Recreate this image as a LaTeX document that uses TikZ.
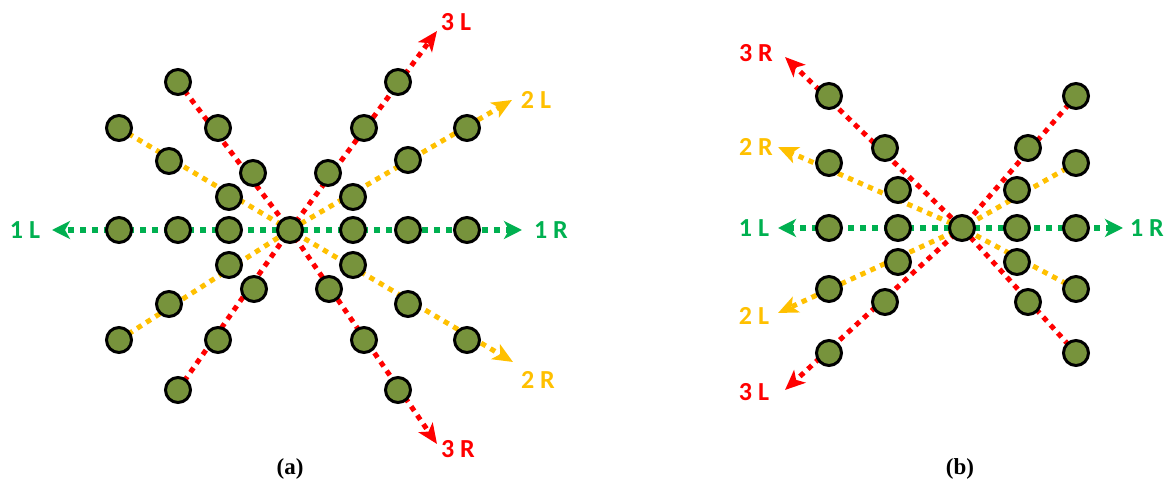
\documentclass[tikz,border=0pt]{standalone}
\usepackage{fontspec}
\setmainfont{Liberation Serif}
\newfontfamily\lblfont{Carlito}
\usetikzlibrary{arrows.meta,backgrounds}
\definecolor{olivedot}{HTML}{77933C}
\definecolor{redpath}{HTML}{FF0000}
\definecolor{orangepath}{HTML}{FFC000}
\definecolor{greenpath}{HTML}{00B050}

\begin{document}
\begin{tikzpicture}[x=0.5pt, y=-0.5pt,
  ball/.style={circle, draw=black, line width=1.5pt, fill=olivedot, minimum size=12.5pt, inner sep=0pt},
  pathone/.style={draw=greenpath, line width=3pt, dash pattern=on 3pt off 3pt, -{Stealth[length=9pt,width=9pt,inset=2.5pt]}},
  pathtwo/.style={draw=orangepath, line width=2.5pt, dash pattern=on 2.7pt off 2.7pt, -{Stealth[length=10pt,width=8.5pt,inset=2.5pt]}},
  paththree/.style={draw=redpath, line width=2.5pt, dash pattern=on 2.7pt off 2.7pt, -{Stealth[length=10pt,width=8.5pt,inset=2.5pt]}},
  lbl/.style={font=\lblfont\bfseries\fontsize{13}{15}\selectfont, inner sep=0pt},
  caption/.style={font=\bfseries\fontsize{11.5}{13}\selectfont, inner sep=0pt}]
  \useasboundingbox (0,0) rectangle (1168,490);

  % panel (a)
  \node[ball] (ac) at (290,230) {};
  \foreach \n/\x/\y in {ag1/119/230, ag2/178/230, ag3/229/230, ag4/353/230, ag5/408/230, ag6/467/230,
      ar1/178/82, ar2/218/128, ar3/253/173, ar4/329/289, ar5/364/340, ar6/398/390,
      ar7/398/82, ar8/364/128, ar9/328/173, ar10/254/289, ar11/218/340, ar12/178/390,
      ao1/119/128, ao2/169/161, ao3/229/197, ao4/353/265, ao5/408/304, ao6/467/340,
      ao7/467/128, ao8/408/160, ao9/353/197, ao10/229/265, ao11/169/304, ao12/119/340}
    \node[ball] (\n) at (\x,\y) {};
  \coordinate (a1L) at (52,230);
  \coordinate (a1R) at (522,230);
  \coordinate (a2L) at (512,100);
  \coordinate (a2R) at (513,362);
  \coordinate (a3L) at (437,31);
  \coordinate (a3R) at (437,444);
  \begin{scope}[on background layer]
    \draw[pathone] (ac.center) -- (a1L);
    \draw[pathone] (ac.center) -- (a1R);
    \draw[pathtwo] (ao1.center) -- (ac.center) -- (a2R);
    \draw[pathtwo] (ao12.center) -- (ac.center) -- (a2L);
    \draw[paththree] (ar1.center) -- (ac.center) -- (a3R);
    \draw[paththree] (ar12.center) -- (ac.center) -- (a3L);
  \end{scope}
  \node[lbl, text=greenpath] (la1L) at (25,230) {1 L};
  \node[lbl, text=greenpath] (la1R) at (551,230) {1 R};
  \node[lbl, text=orangepath] (la2L) at (536,100) {2 L};
  \node[lbl, text=orangepath] (la2R) at (538,380) {2 R};
  \node[lbl, text=redpath] (la3L) at (456,22) {3 L};
  \node[lbl, text=redpath] (la3R) at (458,449) {3 R};
  \node[caption] (capa) at (290,469) {(a)};

  % panel (b)
  \node[ball] (bc) at (962,228) {};
  \foreach \n/\x/\y in {bg1/829/228, bg2/898/228, bg3/1017/228, bg4/1076/228,
      br1/829/96, br2/885/148, br3/1028/302, br4/1076/353,
      br5/1076/96, br6/1028/148, br7/885/302, br8/829/353,
      bo1/829/163, bo2/898/190, bo3/1017/262, bo4/1076/289,
      bo5/1076/163, bo6/1017/190, bo7/898/262, bo8/829/289}
    \node[ball] (\n) at (\x,\y) {};
  \coordinate (b1L) at (778,228);
  \coordinate (b1R) at (1123,228);
  \coordinate (b2R) at (778,147);
  \coordinate (b2L) at (778,313);
  \coordinate (b3R) at (785,57);
  \coordinate (b3L) at (785,390);
  \begin{scope}[on background layer]
    \draw[pathone] (bc.center) -- (b1L);
    \draw[pathone] (bc.center) -- (b1R);
    \draw[pathtwo] (bo4.center) -- (bc.center) -- (b2R);
    \draw[pathtwo] (bo5.center) -- (bc.center) -- (b2L);
    \draw[paththree] (br4.center) -- (bc.center) -- (b3R);
    \draw[paththree] (br5.center) -- (bc.center) -- (b3L);
  \end{scope}
  \node[lbl, text=redpath] (lb3R) at (756,53) {3 R};
  \node[lbl, text=orangepath] (lb2R) at (756,147) {2 R};
  \node[lbl, text=greenpath] (lb1L) at (754,228) {1 L};
  \node[lbl, text=orangepath] (lb2L) at (754,316) {2 L};
  \node[lbl, text=redpath] (lb3L) at (754,392) {3 L};
  \node[lbl, text=greenpath] (lb1R) at (1147,228) {1 R};
  \node[caption] (capb) at (960,469) {(b)};
\end{tikzpicture}
\end{document}
